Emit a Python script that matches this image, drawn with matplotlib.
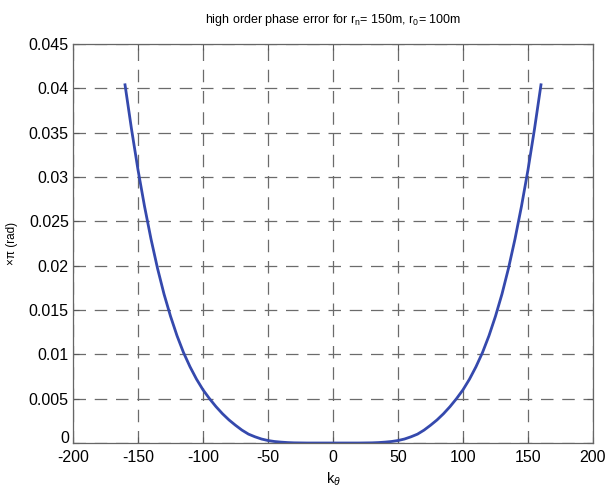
import matplotlib
matplotlib.use('Agg')
import matplotlib.pyplot as plt

plt.rcParams['font.family'] = ['Liberation Sans', 'DejaVu Sans']
plt.rcParams['mathtext.fontset'] = 'custom'
plt.rcParams['mathtext.rm'] = 'Liberation Sans'
plt.rcParams['mathtext.it'] = 'Liberation Sans:italic'
plt.rcParams['axes.unicode_minus'] = False

# values (k_theta, phase error in units of pi)
k_theta = [-160, -155, -150, -145, -140, -135, -130, -125, -120, -115, -110,
           -105, -100, -95, -90, -85, -80, -75, -70, -65, -60, -55, -50,
           -45, -40, -35, -30, -25, -20, -15, -10, -5, 0,
           5, 10, 15, 20, 25, 30, 35, 40, 45, 50, 55, 60, 65, 70, 75, 80,
           85, 90, 95, 100, 105, 110, 115, 120, 125, 130, 135, 140, 145,
           150, 155, 160]
phase_err = [0.0404, 0.0354, 0.0308, 0.0267, 0.0230, 0.0197, 0.0168, 0.0143,
             0.0121, 0.0102, 0.0086, 0.0072, 0.0060, 0.0050, 0.0041, 0.0033,
             0.0026, 0.0020, 0.00145, 0.0010, 0.0007, 0.00045, 0.00028,
             0.00017, 0.0001, 0.00005, 0.00002, 0.00001, 0.0, 0.0, 0.0, 0.0,
             0.0,
             0.0, 0.0, 0.0, 0.0, 0.00001, 0.00002, 0.00005, 0.0001, 0.00017,
             0.00028, 0.00045, 0.0007, 0.0010, 0.00145, 0.0020, 0.0026,
             0.0033, 0.0041, 0.0050, 0.0060, 0.0072, 0.0086, 0.0102, 0.0121,
             0.0143, 0.0168, 0.0197, 0.0230, 0.0267, 0.0308, 0.0354, 0.0404]

x_ticks = [-200, -150, -100, -50, 0, 50, 100, 150, 200]
y_ticks = [0, 0.005, 0.01, 0.015, 0.02, 0.025, 0.03, 0.035, 0.04, 0.045]
y_tick_labels = ['0', '0.005', '0.01', '0.015', '0.02', '0.025', '0.03',
                 '0.035', '0.04', '0.045']

fig = plt.figure(figsize=(6.06, 4.88), dpi=100)
ax = fig.add_axes([0.1205, 0.0922, 0.858, 0.8176])

ax.plot(k_theta, phase_err, color='#3549ad', linewidth=2.0)

ax.set_xlim(-200, 200)
ax.set_ylim(0, 0.045)
ax.set_xticks(x_ticks)
ax.set_yticks(y_ticks)
ax.set_yticklabels(y_tick_labels)
# the "0" label sits on the axis line, as in the original
ax.get_yticklabels()[0].set_verticalalignment('baseline')

ax.grid(True, color='0.42', linestyle=(0, (10, 7)), linewidth=0.9)
ax.tick_params(direction='in', top=True, right=True, length=4,
               labelsize=11.5, color='0.35', pad=3)
ax.tick_params(axis='x', pad=5)
for s in ax.spines.values():
    s.set_color('0.4')
    s.set_linewidth(0.9)

ax.set_title('high order phase error for r$_{\\rm n}$= 150m, r$_{\\rm 0}$= 100m',
             fontsize=9, pad=15)
ax.set_xlabel('k$_{\\theta}$', fontsize=10.5, labelpad=4)
ax.set_ylabel('×π (rad)', fontsize=8.5, labelpad=8)

plt.savefig('out.png', dpi=100)
